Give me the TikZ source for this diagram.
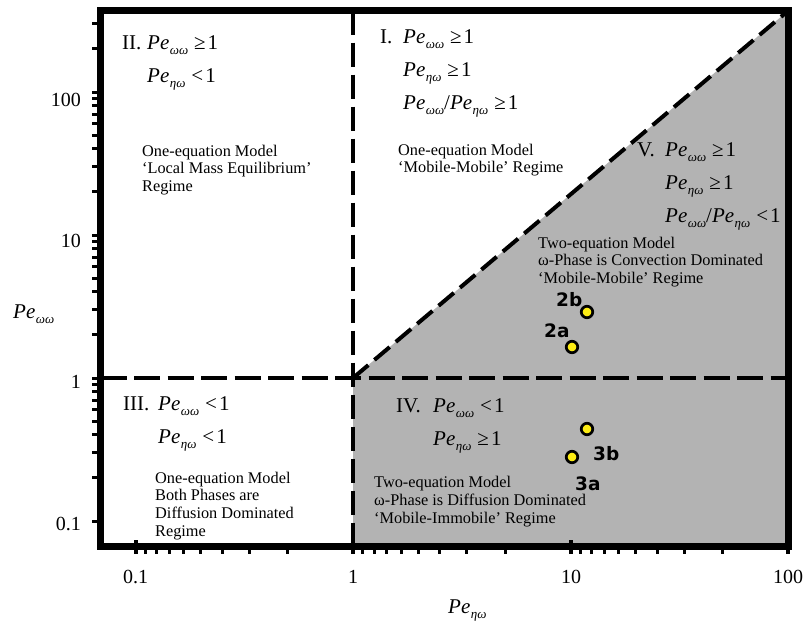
\documentclass[tikz,border=0pt]{standalone}
\usepackage{fontspec}
\setmainfont{Liberation Serif}
\newfontfamily\ptfont{DejaVu Sans}
\definecolor{regiongray}{RGB}{179,179,179}
\definecolor{ptyellow}{RGB}{252,236,20}
\newcommand{\PeS}[1]{\textit{Pe}\kern0.5pt\raisebox{-5.5pt}{\fontsize{13}{13}\selectfont\textit{#1}}}
\tikzset{
  bigtxt/.style={anchor=base west, inner sep=0pt, font=\fontsize{21}{21}\selectfont},
  smalltxt/.style={anchor=base west, inner sep=0pt, font=\fontsize{16.3}{17.5}\selectfont},
  ticklab/.style={inner sep=0pt, font=\fontsize{20}{20}\selectfont},
  ptlab/.style={anchor=base west, inner sep=0pt, font=\ptfont\bfseries\fontsize{18.5}{18.5}\selectfont},
  datapt/.style={circle, draw=black, line width=2.7pt, fill=ptyellow, minimum size=11.5pt, inner sep=0pt},
  bound/.style={line width=4.5pt, black},
  tickmark/.style={line width=3pt, black},
}
\begin{document}
\begin{tikzpicture}[x=1pt,y=-1pt]
\useasboundingbox (0,0) rectangle (804,624);
% key coordinates
\coordinate (BL) at (100.5,546.5);
\coordinate (TL) at (100.5,10.5);
\coordinate (TR) at (788.5,10.5);
\coordinate (BR) at (788.5,546.5);
\coordinate (O) at (353,378);
\coordinate (VT) at (353,10.5);
\coordinate (VB) at (353,546.5);
\coordinate (HL) at (100.5,378);
\coordinate (HR) at (788.5,378);
% grey region
\fill[regiongray] (VB) -- (O) -- (TR) -- (BR) -- cycle;
% boundaries
\draw[bound, dash pattern=on 26pt off 7.5pt] (HL) -- (HR);
\draw[bound, dash pattern=on 24pt off 8pt] (VT) -- (VB);
\draw[line width=4pt, dash pattern=on 20pt off 8pt] (O) -- (TR);
% left ticks (log)
\foreach \e in {-1,0,1}{
  \foreach \m in {1,...,9}{
    \pgfmathsetmacro\yy{378-143*(\e+log10(\m))}
    \draw[tickmark] (92,\yy) -- (100,\yy);
  }
}
\foreach \m in {1,2,3}{
  \pgfmathsetmacro\yy{378-143*(2+log10(\m))}
  \draw[tickmark] (92,\yy) -- (100,\yy);
}
% bottom ticks
\foreach \s in {-1,0,1}{
  \pgfmathsetmacro\xx{353+217.5*\s}
  \draw[line width=4pt] (\xx,540) -- (\xx,554);
  \foreach \m in {2,...,9}{
    \pgfmathsetmacro\xx{353+217.5*(\s+1-log10(\m))}
    \draw[tickmark] (\xx,546) -- (\xx,554);
  }
}
\draw[line width=4pt] (788,540) -- (788,554);
% frame
\draw[line width=6.5pt] (TL) rectangle (BR);
% tick labels
\node[ticklab, anchor=east] (ly100) at (81,100) {100};
\node[ticklab, anchor=east] (ly10) at (81,241) {10};
\node[ticklab, anchor=east] (ly1) at (81,382) {1};
\node[ticklab, anchor=east] (ly01) at (81,524) {0.1};
\node[ticklab] (lx01) at (135.5,577) {0.1};
\node[ticklab] (lx1) at (353,577) {1};
\node[ticklab] (lx10) at (571,577) {10};
\node[ticklab] (lx100) at (788,577) {100};
% axis titles
\node[bigtxt] (ytitle) at (13,318) {\PeS{ωω}};
\node[bigtxt] (xtitle) at (448,613) {\PeS{ηω}};
% Region II
\node[bigtxt] (n2) at (122,49) {II.};
\node[bigtxt] (n2a) at (147,49) {\PeS{ωω}\hspace{6pt}≥\hspace{2pt}1};
\node[bigtxt] (n2b) at (147,82) {\PeS{ηω}\hspace{6pt}<\hspace{2pt}1};
\node[smalltxt] (t2a) at (142,156) {One-equation Model};
\node[smalltxt] (t2b) at (142,173.5) {‘Local Mass Equilibrium’};
\node[smalltxt] (t2c) at (142,191) {Regime};
% Region I
\node[bigtxt] (n1) at (380,43) {I.};
\node[bigtxt] (n1a) at (403,43) {\PeS{ωω}\hspace{6pt}≥\hspace{2pt}1};
\node[bigtxt] (n1b) at (403,76) {\PeS{ηω}\hspace{6pt}≥\hspace{2pt}1};
\node[bigtxt] (n1c) at (403,109) {\PeS{ωω}/\PeS{ηω}\hspace{6pt}≥\hspace{2pt}1};
\node[smalltxt] (t1a) at (398,155) {One-equation Model};
\node[smalltxt] (t1b) at (398,172) {‘Mobile-Mobile’ Regime};
% Region V
\node[bigtxt] (n5) at (637,156) {V.};
\node[bigtxt] (n5a) at (665,156) {\PeS{ωω}\hspace{6pt}≥\hspace{2pt}1};
\node[bigtxt] (n5b) at (665,189) {\PeS{ηω}\hspace{6pt}≥\hspace{2pt}1};
\node[bigtxt] (n5c) at (665,222) {\PeS{ωω}/\PeS{ηω}\hspace{6pt}<\hspace{2pt}1};
\node[smalltxt] (t5a) at (538,248) {Two-equation Model};
\node[smalltxt] (t5b) at (538,265.5) {ω-Phase is Convection Dominated};
\node[smalltxt] (t5c) at (538,283) {‘Mobile-Mobile’ Regime};
% Region IV
\node[bigtxt] (n4) at (396,412) {IV.};
\node[bigtxt] (n4a) at (433,412) {\PeS{ωω}\hspace{6pt}<\hspace{2pt}1};
\node[bigtxt] (n4b) at (433,445) {\PeS{ηω}\hspace{6pt}≥\hspace{2pt}1};
\node[smalltxt] (t4a) at (374,487) {Two-equation Model};
\node[smalltxt] (t4b) at (374,505) {ω-Phase is Diffusion Dominated};
\node[smalltxt] (t4c) at (374,523) {‘Mobile-Immobile’ Regime};
% Region III
\node[bigtxt] (n3) at (123,410) {III.};
\node[bigtxt] (n3a) at (158,410) {\PeS{ωω}\hspace{6pt}<\hspace{2pt}1};
\node[bigtxt] (n3b) at (158,443) {\PeS{ηω}\hspace{6pt}<\hspace{2pt}1};
\node[smalltxt] (t3a) at (155,483) {One-equation Model};
\node[smalltxt] (t3b) at (155,500.5) {Both Phases are};
\node[smalltxt] (t3c) at (155,518) {Diffusion Dominated};
\node[smalltxt] (t3d) at (155,536) {Regime};
% data points
\node[datapt] (p2b) at (587,312) {};
\node[datapt] (p2a) at (572,347) {};
\node[datapt] (p3b) at (587,429) {};
\node[datapt] (p3a) at (572,457) {};
\node[ptlab] (l2b) at (556,306) {2b};
\node[ptlab] (l2a) at (544,337) {2a};
\node[ptlab] (l3b) at (593,460) {3b};
\node[ptlab] (l3a) at (575,490) {3a};
\end{tikzpicture}
\end{document}
